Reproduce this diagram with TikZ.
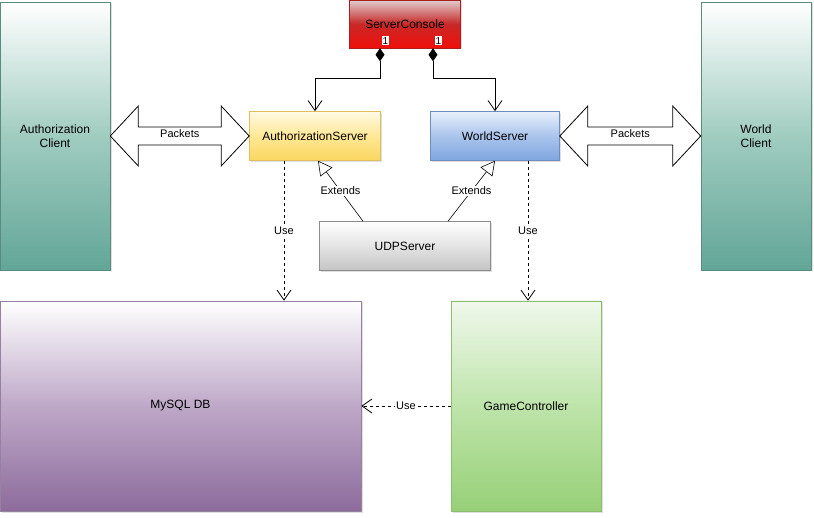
\documentclass[tikz,border=0pt]{standalone}
\usepackage{fontspec}
\setmainfont{Liberation Sans}
\usepackage{xcolor}
\usetikzlibrary{arrows.meta,positioning,calc,shadows}

\definecolor{tealB}{RGB}{98,166,152}
\definecolor{tealM}{RGB}{160,204,192}
\definecolor{tealD}{RGB}{90,140,125}
\definecolor{purpB}{RGB}{141,108,156}
\definecolor{purpM}{RGB}{190,168,200}
\definecolor{purpD}{RGB}{150,130,160}
\definecolor{greenT}{RGB}{240,248,236}
\definecolor{greenM}{RGB}{190,228,170}
\definecolor{greenB}{RGB}{151,208,119}
\definecolor{greenD}{RGB}{140,190,110}
\definecolor{yellT}{RGB}{255,250,228}
\definecolor{yellM}{RGB}{255,232,150}
\definecolor{yellB}{RGB}{250,214,95}
\definecolor{yellD}{RGB}{220,190,90}
\definecolor{blueT}{RGB}{232,240,252}
\definecolor{blueM}{RGB}{170,196,236}
\definecolor{blueB}{RGB}{126,166,224}
\definecolor{blueD}{RGB}{110,140,190}
\definecolor{grayM}{RGB}{228,228,228}
\definecolor{grayB}{RGB}{196,196,196}
\definecolor{grayD}{RGB}{140,140,140}
\definecolor{redT}{RGB}{225,205,205}
\definecolor{redM}{RGB}{200,40,40}
\definecolor{redB}{RGB}{240,15,10}
\definecolor{redD}{RGB}{170,30,30}

\begin{document}
\begin{tikzpicture}[x=1pt,y=1pt,
  box/.style={rectangle, font=\fontsize{12}{14}\selectfont, align=center, line width=0.6pt,
    drop shadow={shadow xshift=1.5pt,shadow yshift=-1.5pt,opacity=0.25}},
  lbl/.style={font=\fontsize{11}{12}\selectfont, fill=white, inner sep=1pt},
  mult/.style={font=\fontsize{10}{10}\selectfont, fill=white, inner sep=0.8pt},
  compose/.style={line width=0.8pt, {Diamond[length=13pt,width=9pt]}-{Straight Barb[length=10pt,width=14pt]}},
  extends/.style={line width=0.6pt, -{Triangle[open,length=14pt,width=15pt]}},
  uses/.style={line width=0.8pt, dash pattern=on 3pt off 3pt, -{Straight Barb[length=10pt,width=14pt]}},
  packet/.style={draw, fill=white, line width=0.8pt, line join=miter}]
\useasboundingbox (0,0) rectangle (814,517);

% Boxes
\node (aclient) [box, draw=tealD, top color=white, bottom color=tealB, middle color=tealM, minimum width=110pt, minimum height=268pt] at (55,381) {Authorization\\Client};
\node (wclient) [box, draw=tealD, top color=white, bottom color=tealB, middle color=tealM, minimum width=110pt, minimum height=268pt] at (756,381) {World\\Client};
\node (console) [box, draw=redD, top color=redT, bottom color=redB, middle color=redM, minimum width=111pt, minimum height=48pt] at (405,493) {ServerConsole};
\node (authsrv) [box, draw=yellD, top color=yellT, bottom color=yellB, middle color=yellM, minimum width=131pt, minimum height=49pt] at (315,381) {AuthorizationServer};
\node (worldsrv) [box, draw=blueD, top color=blueT, bottom color=blueB, middle color=blueM, minimum width=129pt, minimum height=49pt] at (495,381) {WorldServer};
\node (udp) [box, draw=grayD, top color=white, bottom color=grayB, middle color=grayM, minimum width=171pt, minimum height=49pt] at (405,271) {UDPServer};
\node (mysql) [box, draw=purpD, top color=white, bottom color=purpB, middle color=purpM, minimum width=361pt, minimum height=210pt] at (180.5,111) {MySQL DB};
\node (game) [box, draw=greenD, top color=greenT, bottom color=greenB, middle color=greenM, minimum width=150pt, minimum height=210pt] at (526,111) {GameController};

% Composition
\draw[compose] ([xshift=-25pt]console.south) node[mult, anchor=south west, xshift=1.5pt, yshift=3pt] {1} -- ++(0,-30) -| (authsrv.north);
\draw[compose] ([xshift=28pt]console.south) node[mult, anchor=south west, xshift=1.5pt, yshift=3pt] {1} -- ++(0,-30) -| (worldsrv.north);

% Packets
\draw[packet] (aclient.east) -- ++(28,30) -- ++(0,-21) -- ($(authsrv.west)+(-28,9)$) -- ++(0,21) -- (authsrv.west)
  -- ++(-28,-30) -- ++(0,21) -- ($(aclient.east)+(28,-9)$) -- ++(0,-21) -- cycle;
\node[lbl, fill=none] at ($(aclient.east)!0.5!(authsrv.west)+(0,2)$) {Packets};
\draw[packet] (worldsrv.east) -- ++(28,30) -- ++(0,-21) -- ($(wclient.west)+(-28,9)$) -- ++(0,21) -- (wclient.west)
  -- ++(-28,-30) -- ++(0,21) -- ($(worldsrv.east)+(28,-9)$) -- ++(0,-21) -- cycle;
\node[lbl, fill=none] at ($(worldsrv.east)!0.5!(wclient.west)+(0,2)$) {Packets};

% Extends
\draw[extends] ([xshift=-42pt]udp.north) -- node[lbl] {Extends} ([xshift=3pt]authsrv.south);
\draw[extends] ([xshift=43pt]udp.north) -- node[lbl] {Extends} (worldsrv.south);

% Use
\draw[uses] ([xshift=-31pt]authsrv.south) -- node[lbl] {Use} ([xshift=-31pt]authsrv.south |- mysql.north);
\draw[uses] ([xshift=33pt]worldsrv.south) -- node[lbl] {Use} ([xshift=33pt]worldsrv.south |- game.north);
\draw[uses] (game.west) -- node[lbl] {Use} (mysql.east);

\end{tikzpicture}
\end{document}
